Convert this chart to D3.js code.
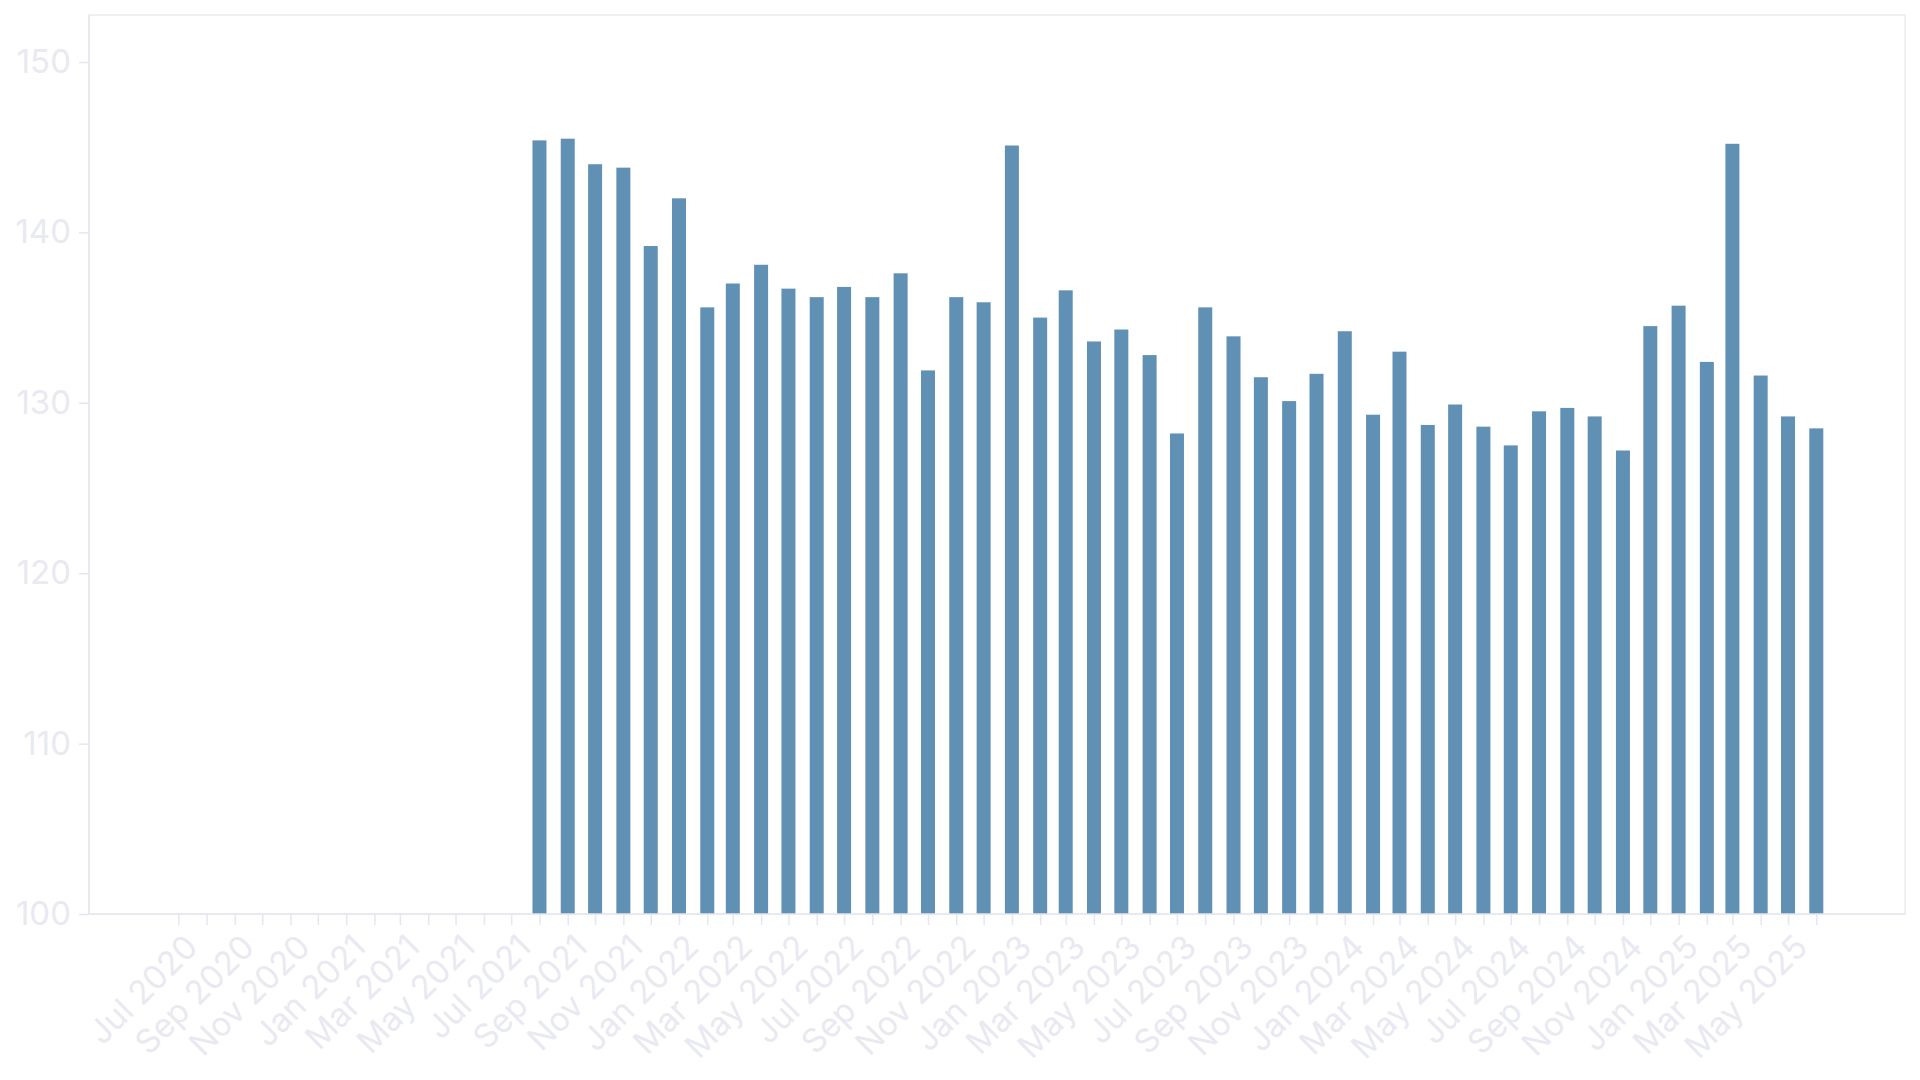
<!DOCTYPE html>
<html>
  <head>
    <meta charset="utf-8"/>
    <title>Monthly values</title>
    <style type="text/css">
body {
  margin: 0;
  background: #fff;
  font-family: Inter, "Noto Sans", sans-serif;
}
.frame {
  fill: none;
  stroke: #ececec;
  stroke-width: 1.5;
}
.axis path, .axis line {
  stroke: #e6e6ef;
  stroke-width: 1.5;
}
.axis text {
  fill: #e9e9f1;
  font-size: 33px;
  font-family: Inter, "Noto Sans", sans-serif;
}
.bar {
  fill: #6190b5;
}
    </style>
  </head>
  <body>
    <div id="chart"></div>

    <script src="https://cdn.jsdelivr.net/npm/d3@7"></script>
    <script>
    // months with a value, Aug 2021 .. Jun 2025
    const firstMonth = "2021-08";
    const values = [
      145.4, 145.5, 144.0, 143.8, 139.2, 142.0, 135.6, 137.0, 138.1, 136.7,
      136.2, 136.8, 136.2, 137.6, 131.9, 136.2, 135.9, 145.1, 135.0, 136.6,
      133.6, 134.3, 132.8, 128.2, 135.6, 133.9, 131.5, 130.1, 131.7, 134.2,
      129.3, 133.0, 128.7, 129.9, 128.6, 127.5, 129.5, 129.7, 129.2, 127.2,
      134.5, 135.7, 132.4, 145.2, 131.6, 129.2, 128.5
    ];
    // axis
    const tickStart = "2020-07";
    const tickEnd = "2025-06";
    const yTicks = [100, 110, 120, 130, 140, 150];

    const parseMonth = d3.timeParse("%Y-%m");
    const start = parseMonth(firstMonth);
    const data = values.map((v, i) => ({date: d3.timeMonth.offset(start, i), value: v}));

    const width = 1920, height = 1080;
    const plot = {left: 89, right: 1905, top: 15, bottom: 914};

    const x = d3.scaleTime()
        .domain([parseMonth(tickStart), parseMonth(tickEnd)])
        .range([178.3, 1816.3]);
    const y = d3.scaleLinear()
        .domain([100, 150])
        .range([plot.bottom, 62]);

    const svg = d3.select("#chart").append("svg")
        .attr("width", width)
        .attr("height", height);

    svg.append("rect")
        .attr("class", "frame")
        .attr("x", plot.left)
        .attr("y", plot.top)
        .attr("width", plot.right - plot.left)
        .attr("height", plot.bottom - plot.top);

    const barW = 14;
    svg.selectAll(".bar")
        .data(data)
        .enter()
        .append("rect")
        .attr("class", "bar")
        .attr("x", d => x(d.date) - barW / 2)
        .attr("y", d => y(d.value))
        .attr("width", barW)
        .attr("height", d => y(100) - y(d.value));

    const months = d3.timeMonth.range(parseMonth(tickStart), d3.timeMonth.offset(parseMonth(tickEnd), 1));
    const fmt = d3.timeFormat("%b %Y");

    const xAxis = svg.append("g")
        .attr("class", "axis")
        .attr("transform", `translate(0,${plot.bottom})`)
        .call(d3.axisBottom(x)
          .tickValues(months)
          .tickSize(11)
          .tickSizeOuter(0)
          .tickFormat((d, i) => i % 2 === 0 ? fmt(d) : ""));
    xAxis.select(".domain")
        .attr("d", `M${plot.left},0H${plot.right}`);
    // tick groups are already translated to x(d); rotate around the label anchor
    xAxis.selectAll("text")
        .style("text-anchor", "end")
        .attr("y", 14)
        .attr("dy", "0.9em")
        .attr("transform", "rotate(-45,0,14)");

    const yAxis = svg.append("g")
        .attr("class", "axis")
        .attr("transform", `translate(${plot.left},0)`)
        .call(d3.axisLeft(y)
          .tickValues(yTicks)
          .tickSize(10)
          .tickPadding(8)
          .tickSizeOuter(0));
    yAxis.select(".domain")
        .attr("d", `M0,${plot.top}V${plot.bottom}`);
    </script>
  </body>
</html>
